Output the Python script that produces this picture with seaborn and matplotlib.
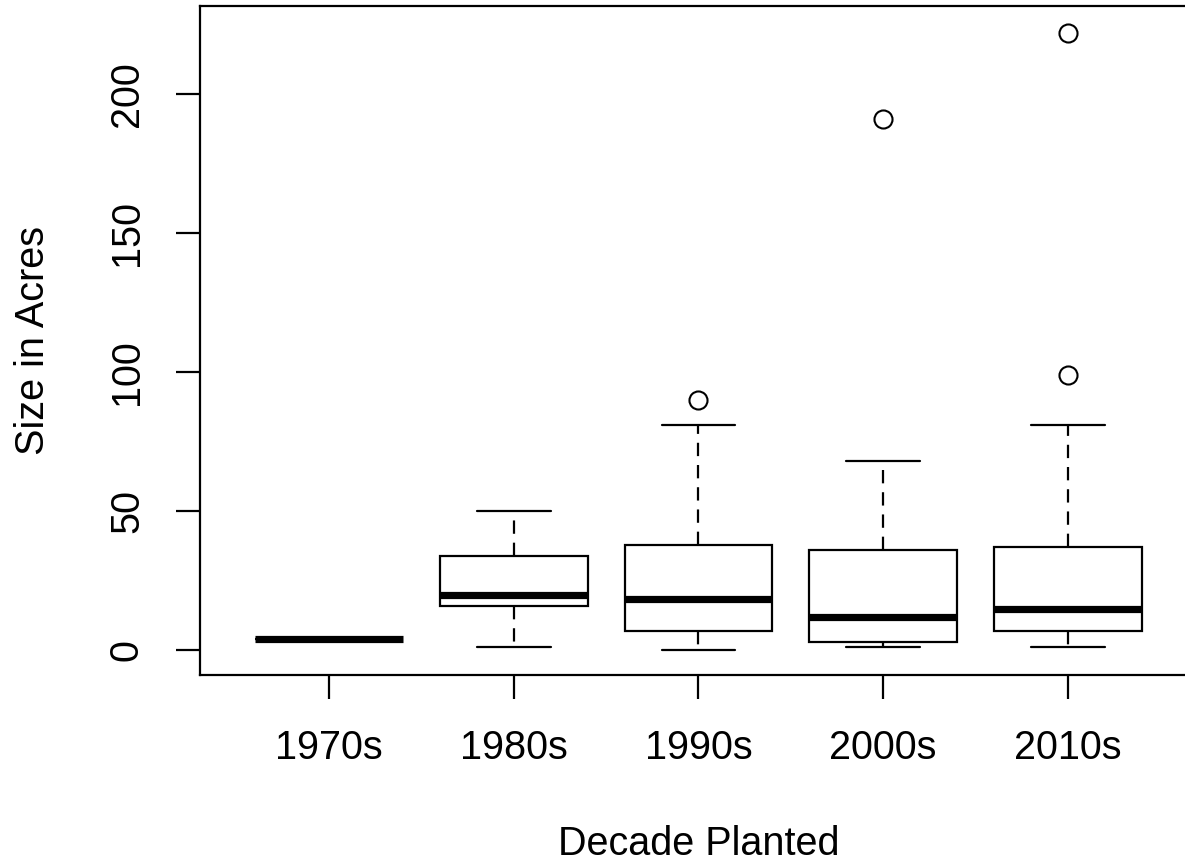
import numpy as np
import pandas as pd
import matplotlib
matplotlib.use("Agg")
import matplotlib.pyplot as plt
import seaborn as sns

sns.set_style("white")
plt.rcParams['font.family'] = ['Liberation Sans', 'DejaVu Sans']
plt.rcParams['text.color'] = 'black'
plt.rcParams['axes.labelcolor'] = 'black'

# acres per planting
decades = ['1970s', '1980s', '1990s', '2000s', '2010s']
acres_1970s = [4, 4, 4]
acres_1980s = [1, 10, 16, 18, 20, 27, 34, 42, 50]
acres_1990s = [0, 3, 7, 12, 18.5, 30, 38, 81, 90]
acres_2000s = [1, 2, 3, 8, 12, 25, 36, 68, 191]
acres_2010s = [1, 3, 5, 7, 10, 13, 15, 22, 30, 37, 81, 99, 222]
y_ticks = [0, 50, 100, 150, 200]

groups = [acres_1970s, acres_1980s, acres_1990s, acres_2000s, acres_2010s]
df = pd.DataFrame({
    'Decade': np.repeat(decades, [len(g) for g in groups]),
    'Acres': np.concatenate(groups),
})

fig = plt.figure(figsize=(11.85, 8.68), dpi=100)
ax = fig.add_axes([0.1688, 0.2224, 0.8413, 0.7707])

sns.boxplot(data=df, x='Decade', y='Acres', order=decades, ax=ax,
            color='white', linecolor='black', linewidth=1.6, width=0.8,
            whiskerprops=dict(linestyle=(0, (6, 4)), linewidth=1.6, color='black'),
            medianprops=dict(linewidth=5.2, color='black', solid_capstyle='butt'),
            capprops=dict(linewidth=1.6, color='black'),
            flierprops=dict(marker='o', markersize=13, markerfacecolor='none',
                            markeredgecolor='black', markeredgewidth=1.5))

ax.set_xlim(-0.7, 4.7)
ax.set_ylim(-8.9, 231.7)
ax.set_yticks(y_ticks)
ax.set_yticklabels([str(t) for t in y_ticks], rotation=90, va='center')

for s in ax.spines.values():
    s.set_color('black')
    s.set_linewidth(1.6)

ax.tick_params(axis='both', direction='out', length=17, width=1.6,
               color='black', labelsize=28.5, labelcolor='black', pad=22,
               left=True, bottom=True)

ax.set_xlabel('Decade Planted', fontsize=28.5, labelpad=42, color='black')
ax.set_ylabel('Size in Acres', fontsize=28.5, labelpad=40, color='black')

fig.savefig('out.png', dpi=100)
